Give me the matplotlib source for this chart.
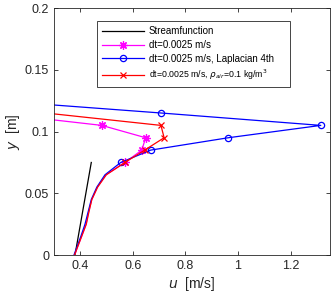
import matplotlib
matplotlib.use('Agg')
import matplotlib.pyplot as plt

plt.rcParams['font.family'] = ['Liberation Sans', 'DejaVu Sans']

# streamfunction profile
u_sf = [0.38, 0.442]
y_sf = [0.0, 0.075]

# dt=0.0025 m/s
y_mag = [0.0, 0.015, 0.025, 0.035, 0.045, 0.055, 0.065, 0.075, 0.085, 0.095, 0.105, 0.115]
u_mag = [0.378, 0.405, 0.422, 0.432, 0.444, 0.465, 0.498, 0.57, 0.634, 0.649, 0.482, 0.07]

# dt=0.0025 m/s, Laplacian 4th
y_blu = [0.0, 0.015, 0.025, 0.035, 0.045, 0.055, 0.065, 0.075, 0.085, 0.095, 0.105, 0.115, 0.125]
u_blu = [0.376, 0.402, 0.418, 0.43, 0.442, 0.463, 0.494, 0.554, 0.668, 0.963, 1.315, 0.709, 0.08]

# dt=0.0025 m/s, rho_air=0.1 kg/m^3
y_red = [0.0, 0.015, 0.025, 0.035, 0.045, 0.055, 0.065, 0.075, 0.085, 0.095, 0.105, 0.115]
u_red = [0.378, 0.405, 0.423, 0.433, 0.444, 0.466, 0.499, 0.57, 0.645, 0.719, 0.707, 0.27]

fig = plt.figure(figsize=(3.31, 2.97), dpi=100)
ax = fig.add_axes([0.163, 0.141, 0.834, 0.832])

ax.plot(u_sf, y_sf, '-', color='k', lw=0.9, label='Streamfunction')
ax.plot(u_mag, y_mag, '-', color='magenta', lw=0.9, marker=(8, 2, 0), ms=6, mew=0.9,
        markevery=list(range(7, len(u_mag))), label='dt=0.0025 m/s')
ax.plot(u_blu, y_blu, '-', color='blue', lw=0.9, marker='o', ms=4.5, mfc='none', mew=0.9,
        markevery=list(range(7, len(u_blu))), label='dt=0.0025 m/s, Laplacian 4th')
ax.plot(u_red, y_red, '-', color='red', lw=0.9, marker='x', ms=5, mew=0.9,
        markevery=list(range(7, len(u_red))),
        label=r'dt=0.0025 m/s, $\rho_{air}$=0.1 kg/m$^3$')

ax.set_xlim(0.3, 1.35)
ax.set_ylim(0, 0.2)
ax.set_xticks([0.4, 0.6, 0.8, 1.0, 1.2])
ax.set_xticklabels(['0.4', '0.6', '0.8', '1', '1.2'])
ax.set_yticks([0, 0.05, 0.1, 0.15, 0.2])
ax.set_yticklabels(['0', '0.05', '0.1', '0.15', '0.2'])
ax.tick_params(direction='in', top=True, right=True, labelsize=9,
               colors='#262626', length=3, width=0.6)
for s in ax.spines.values():
    s.set_color('#262626')
    s.set_linewidth(0.6)

ax.set_xlabel(r'$u$  [m/s]', fontsize=10, color='#262626', labelpad=2)
ax.set_ylabel(r'$y$  [m]', fontsize=10, color='#262626', labelpad=2)

leg = ax.legend(loc='upper left', bbox_to_anchor=(0.155, 0.688, 0.70, 0.259),
                mode='expand', fontsize=7, fancybox=False, framealpha=1,
                edgecolor='#262626', handlelength=4.3, handletextpad=0.5,
                borderpad=0.55, labelspacing=0.38, borderaxespad=0)
leg.get_frame().set_linewidth(0.6)
leg.get_texts()[3].set_fontsize(6.3)

fig.savefig('out.png', dpi=100)
plt.close('all')
